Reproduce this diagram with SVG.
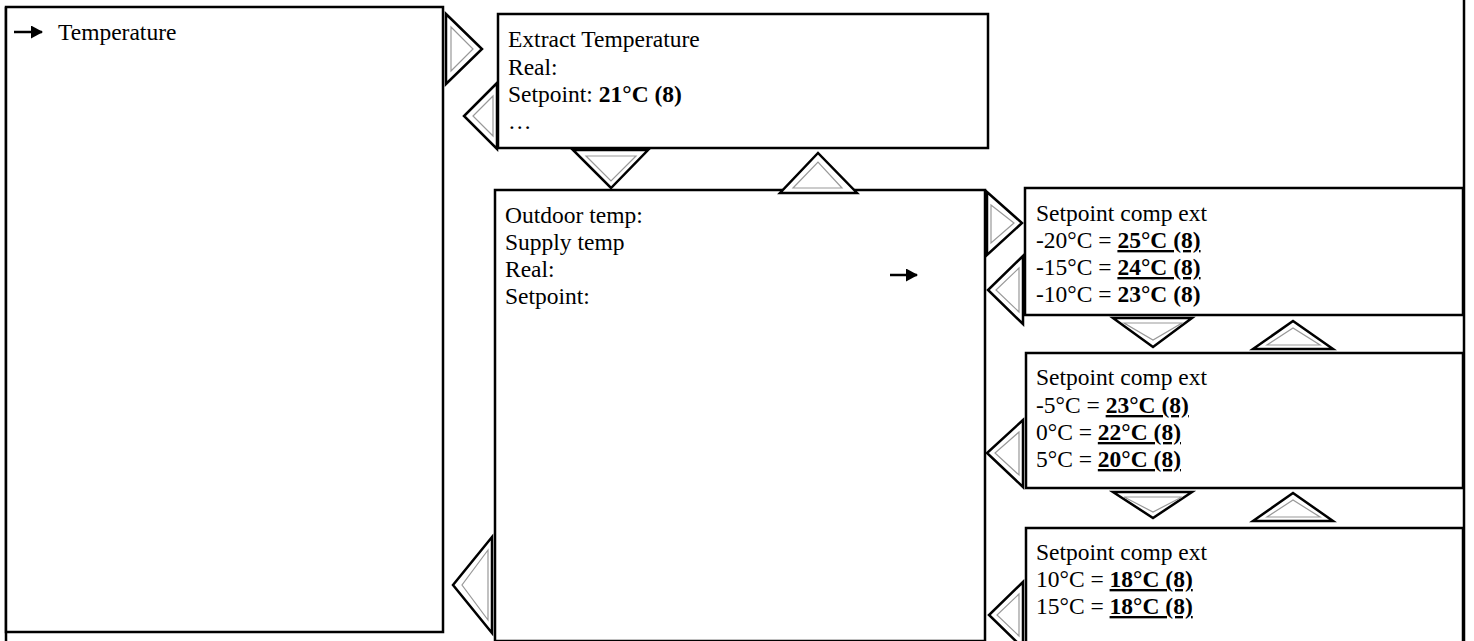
<svg xmlns="http://www.w3.org/2000/svg" width="1474" height="641" viewBox="0 0 1474 641">
<style>
.box{fill:#fff;stroke:#000;stroke-width:2.5}
.t{font-family:"Liberation Serif","Times New Roman",serif;font-size:23.5px;fill:#000}
.b{font-weight:bold}
.u{text-decoration:underline}
.to{fill:#fff;stroke:#000;stroke-width:2.5;stroke-linejoin:miter}
.ti{fill:none;stroke:#999;stroke-width:1.2}
.frame{stroke:#000;stroke-width:2.5}
.arr{stroke:#000;stroke-width:2.5}
</style>
<defs>
<marker id="ah" markerWidth="13" markerHeight="14" refX="11" refY="6.5" orient="auto" markerUnits="userSpaceOnUse">
<path d="M0,0 L12,6.5 L0,13 Z" fill="#000"/>
</marker>
</defs>
<rect width="1474" height="641" fill="#fff"/>
<line class="frame" x1="6" y1="7" x2="6" y2="641"/>
<line class="frame" x1="1464" y1="0" x2="1464" y2="641"/>

<g id="menu">
<rect class="box" x="6" y="7" width="437" height="625"/>
<line class="arr" x1="14" y1="32" x2="42" y2="32" marker-end="url(#ah)"/>
<text class="t" x="58" y="40">Temperature</text>
</g>

<g id="extract">
<rect class="box" x="498" y="14" width="490" height="134"/>
<text class="t" x="508" y="47">Extract Temperature</text>
<text class="t" x="508" y="75">Real:</text>
<text class="t" x="508" y="102">Setpoint: <tspan class="b">21°C (8)</tspan></text>
<text class="t" x="508" y="129">…</text>
</g>

<g id="supply">
<rect class="box" x="495" y="190" width="490" height="451"/>
<text class="t" x="505" y="223">Outdoor temp:</text>
<text class="t" x="505" y="250">Supply temp</text>
<text class="t" x="505" y="277">Real:</text>
<text class="t" x="505" y="304">Setpoint:</text>
<line class="arr" x1="890" y1="275" x2="917" y2="275" marker-end="url(#ah)"/>
</g>

<g id="comp1">
<rect class="box" x="1025" y="188" width="438" height="127"/>
<text class="t" x="1036" y="221">Setpoint comp ext</text>
<text class="t" x="1036" y="248">-20°C = <tspan class="b u">25°C (8)</tspan></text>
<text class="t" x="1036" y="275">-15°C = <tspan class="b u">24°C (8)</tspan></text>
<text class="t" x="1036" y="302">-10°C = <tspan class="b">23°C (8)</tspan></text>
</g>

<g id="comp2">
<rect class="box" x="1026" y="353" width="437" height="135"/>
<text class="t" x="1036" y="385">Setpoint comp ext</text>
<text class="t" x="1036" y="413">-5°C = <tspan class="b u">23°C (8)</tspan></text>
<text class="t" x="1036" y="440">0°C = <tspan class="b u">22°C (8)</tspan></text>
<text class="t" x="1036" y="467">5°C = <tspan class="b u">20°C (8)</tspan></text>
</g>

<g id="comp3">
<rect class="box" x="1026" y="528" width="437" height="125"/>
<text class="t" x="1036" y="560">Setpoint comp ext</text>
<text class="t" x="1036" y="587">10°C = <tspan class="b u">18°C (8)</tspan></text>
<text class="t" x="1036" y="614">15°C = <tspan class="b u">18°C (8)</tspan></text>
</g>

<g id="connectors">
<polygon class="to" points="446,14 482,49 446,84"/><polygon class="ti" points="451,27 473,49 451,71"/>
<polygon class="to" points="497,83 464,116 497,149"/><polygon class="ti" points="493,96 473,116 493,136"/>
<polygon class="to" points="573,150 648,150 611,188"/><polygon class="ti" points="586,156 636,156 611,181"/>
<polygon class="to" points="780,193 857,193 818,153"/><polygon class="ti" points="793,188 842,188 818,162"/>
<polygon class="to" points="987,192 1022,223 987,255"/><polygon class="ti" points="991,205 1014,223 991,243"/>
<polygon class="to" points="1023,256 988,290 1023,324"/><polygon class="ti" points="1019,268 996,290 1019,312"/>
<polygon class="to" points="1113,318 1192,318 1153,347"/><polygon class="ti" points="1124,323 1182,323 1153,340"/>
<polygon class="to" points="1253,349 1333,349 1293,321"/><polygon class="ti" points="1267,345 1320,345 1293,328"/>
<polygon class="to" points="1023,420 987,453 1023,487"/><polygon class="ti" points="1019,432 995,453 1019,475"/>
<polygon class="to" points="1113,492 1192,492 1153,518"/><polygon class="ti" points="1124,497 1182,497 1153,512"/>
<polygon class="to" points="1253,521 1333,521 1293,493"/><polygon class="ti" points="1267,517 1320,517 1293,500"/>
<polygon class="to" points="1023,582 989,615 1023,648"/><polygon class="ti" points="1019,594 997,615 1019,636"/>
<polygon class="to" points="492,537 453,585 492,633"/><polygon class="ti" points="488,550 462,585 488,620"/>
</g>
</svg>
